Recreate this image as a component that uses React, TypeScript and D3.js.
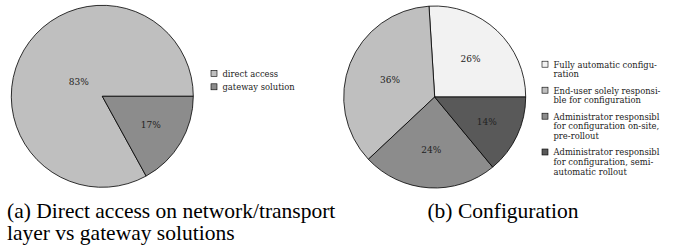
import * as d3 from "d3";
import React from "react";

// (a) access type
const accessLabels = [["direct access"], ["gateway solution"]];
const accessShares = [83, 17];
const accessColors = ["#bfbfbf", "#8c8c8c"];

// (b) configuration
const configLabels = [
    ["Fully automatic configu-", "ration"],
    ["End-user solely responsi-", "ble for configuration"],
    ["Administrator responsibl", "for configuration on-site,", "pre-rollout"],
    ["Administrator responsibl", "for configuration, semi-", "automatic rollout"],
];
const configShares = [26, 36, 24, 14];
const configColors = ["#f2f2f2", "#bfbfbf", "#8c8c8c", "#595959"];

const captionA = ["(a) Direct access on network/transport", "layer vs gateway solutions"];
const captionB = "(b) Configuration";

const width = 684;
const height = 247;
const chartFont = "'DejaVu Serif', serif";
const captionFont = "'Liberation Serif', 'Times New Roman', serif";

type PieProps = {
    cx: number;
    cy: number;
    r: number;
    shares: number[];
    colors: string[];
    labels: string[][];
    legendX: number;
    legendY: number;
    lineStep: number;
    entryGap: number;
};

const PieChart = ({ cx, cy, r, shares, colors, labels, legendX, legendY, lineStep, entryGap }: PieProps) => {
    // pgf-pie style: start at 3 o'clock, go counterclockwise
    const pie = d3.pie<number>()
        .sort(null)
        .value(d => d)
        .startAngle(Math.PI / 2)
        .endAngle(Math.PI / 2 - 2 * Math.PI);
    const arc = d3.arc<d3.PieArcDatum<number>>().innerRadius(0).outerRadius(r);
    const arcs = pie(shares);

    // bigger slices get their label closer to the centre
    const labelRadius = d3.scaleLinear().domain([0, 100]).range([0.7 * r, 0.22 * r]);

    let y = legendY;
    const legendRows = labels.map((lines, i) => {
        const row = { y, lines, color: colors[i] };
        y += lines.length * lineStep + entryGap;
        return row;
    });

    return (
        <g>
            <g transform={`translate(${cx},${cy})`}>
                {arcs.map((a, i) => (
                    <path key={i} d={arc(a) || ""} fill={colors[i]} stroke="#000" strokeWidth={0.8} strokeLinejoin="round" />
                ))}
                {arcs.map((a, i) => {
                    const mid = (a.startAngle + a.endAngle) / 2;
                    const lr = labelRadius(a.data);
                    return (
                        <text key={i} x={Math.sin(mid) * lr} y={-Math.cos(mid) * lr} dy="0.35em"
                            textAnchor="middle" fontSize={9} fontFamily={chartFont} fill="#222">
                            {a.data}%
                        </text>
                    );
                })}
            </g>
            {legendRows.map((row, i) => (
                <g key={i}>
                    <rect x={legendX} y={row.y - 6.3} width={6} height={6} fill={row.color} stroke="#000" strokeWidth={0.6} />
                    {row.lines.map((line, j) => (
                        <text key={j} x={legendX + 11.5} y={row.y + j * lineStep} fontSize={8.4}
                            fontFamily={chartFont} fill="#222">
                            {line}
                        </text>
                    ))}
                </g>
            ))}
        </g>
    );
};

export default function App() {
    return (
        <svg width={width} height={height} style={{ position: "absolute", left: 0, top: 0, background: "#fff" }}>
            <PieChart cx={102.3} cy={96.3} r={91} shares={accessShares} colors={accessColors} labels={accessLabels}
                legendX={211} legendY={76.7} lineStep={13.4} entryGap={0} />
            <PieChart cx={434.7} cy={97} r={91} shares={configShares} colors={configColors} labels={configLabels}
                legendX={542} legendY={67.5} lineStep={9.8} entryGap={6.4} />

            {captionA.map((line, i) => (
                <text key={i} x={7} y={218 + i * 22} fontSize={21.5} fontFamily={captionFont} fill="#000">{line}</text>
            ))}
            <text x={503} y={218} textAnchor="middle" fontSize={21.5} fontFamily={captionFont} fill="#000">{captionB}</text>
        </svg>
    );
}
